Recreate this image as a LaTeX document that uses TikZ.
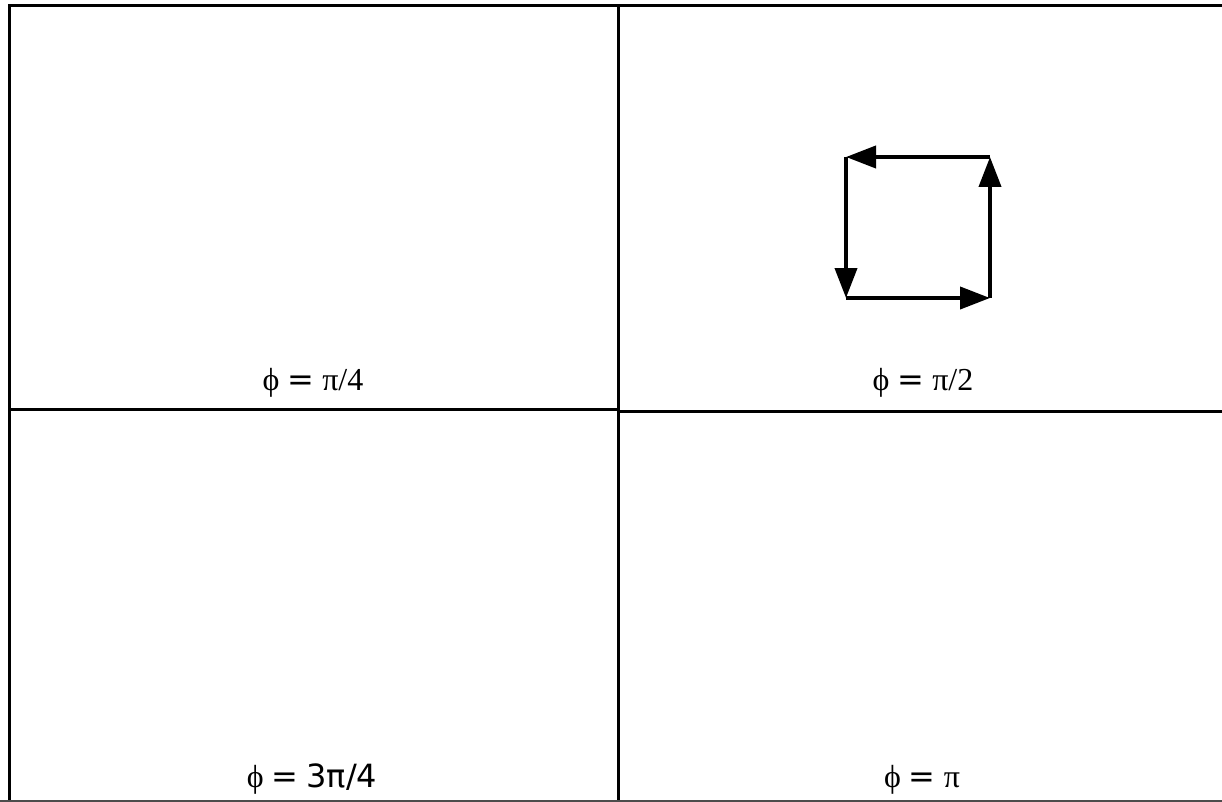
\documentclass[tikz,border=0pt]{standalone}
\usepackage{fontspec}
\setmainfont{Liberation Serif}
\newfontfamily\dvsans{DejaVu Sans}
\newcommand{\eqsp}{ {\dvsans =} }
\usetikzlibrary{arrows.meta}
\begin{document}
\begin{tikzpicture}[x=1pt,y=-1pt,
  frame/.style={line width=3pt,black},
  flow/.style={line width=4pt,-{Triangle[length=30pt,width=22pt]}},
  lbl/.style={font=\fontsize{32}{36}\selectfont,inner sep=0pt,anchor=base}]
\useasboundingbox (0,0) rectangle (1222,802);
\fill[white] (0,0) rectangle (1222,802);
% frame
\draw[frame] (1222,6) -- (9.5,6) -- (9.5,802);
\draw[frame] (618,6) -- (618,802);
\draw[frame] (9.5,409) -- (618,409);
\draw[frame] (618,411) -- (1222,411);
\draw[line width=1.5pt,black!70] (0,801) -- (1222,801);
% loop of arrows
\coordinate (tl) at (846,157);
\coordinate (tr) at (990,157);
\coordinate (bl) at (846,298);
\coordinate (br) at (990,298);
\draw[flow] (tr) -- (tl);
\draw[flow] (tl) -- (bl);
\draw[flow] (bl) -- (br);
\draw[flow] (br) -- (tr);
% labels
\node[lbl] (l1) at (313,390) {ϕ\eqsp π/4};
\node[lbl] (l2) at (923,390) {ϕ\eqsp π/2};
\node[lbl] (l3) at (312,787) {ϕ\eqsp{\dvsans 3π/4}};
\node[lbl] (l4) at (922,787) {ϕ\eqsp π};
\end{tikzpicture}
\end{document}
